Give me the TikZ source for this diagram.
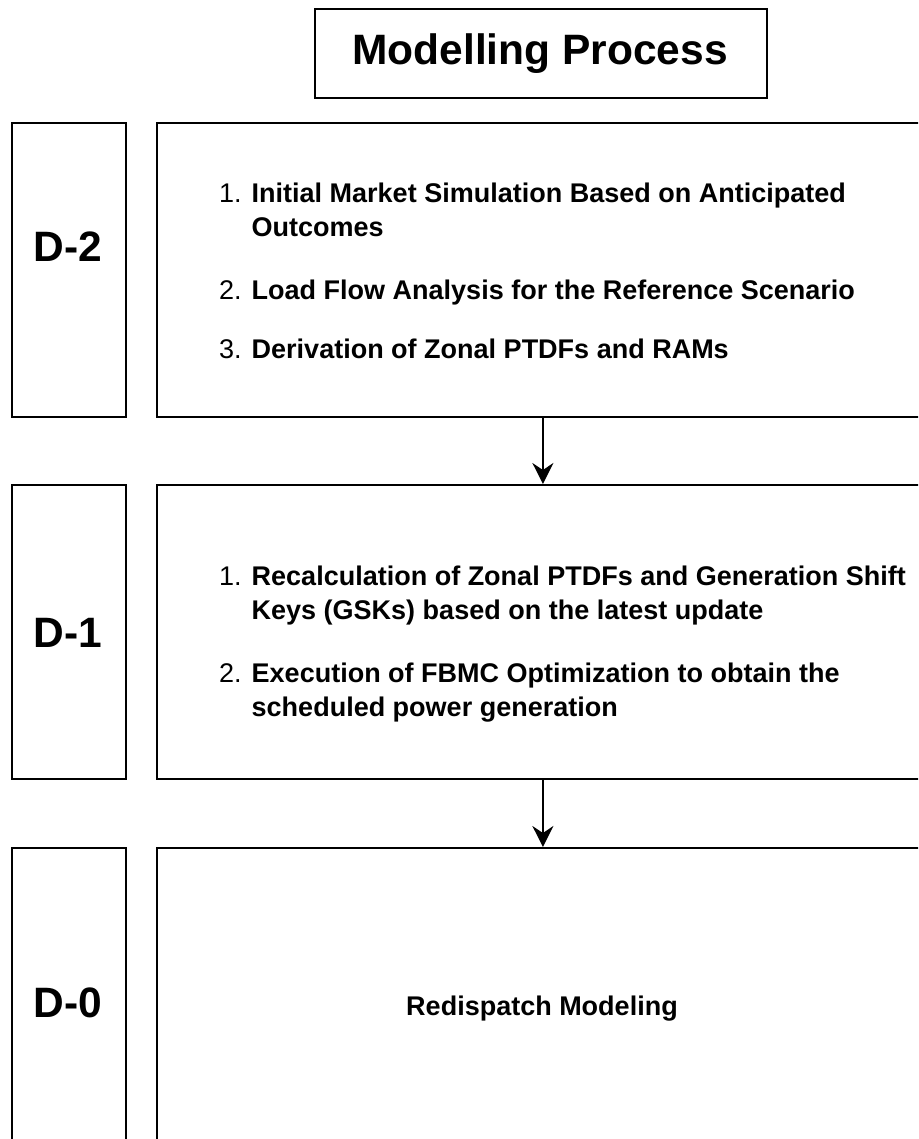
\documentclass[tikz,border=0pt]{standalone}
\usepackage{fontspec}
\setmainfont{Liberation Sans}
\usetikzlibrary{arrows.meta}

\tikzset{
  box/.style={draw=black, line width=1.8pt, rectangle, inner sep=0pt, anchor=north west},
  biglabel/.style={font=\fontsize{42.5}{50}\selectfont\bfseries, inner sep=0pt},
  item/.style={font=\fontsize{27}{34}\selectfont, inner sep=0pt, anchor=base west},
  flow/.style={draw=black, line width=1.8pt, -{Stealth[length=21pt, width=21pt, inset=7pt]}}
}
\newcommand{\stepitem}[3]{%
  \begin{tabular}[t]{@{}l@{ }l@{}}#1 & \textbf{#2}\\ & \textbf{#3}\end{tabular}}
\newcommand{\oneitem}[2]{%
  \begin{tabular}[t]{@{}l@{ }l@{}}#1 & \textbf{#2}\end{tabular}}

\begin{document}
\begin{tikzpicture}[x=1pt, y=-1pt]
  \useasboundingbox (0,0) rectangle (918,1139);
  \clip (0,0) rectangle (918,1139);

  % title
  \node[box, minimum width=452pt, minimum height=89pt] (title) at (314,8) {};
  \node[biglabel, anchor=base] (titletext) at (540,65) {Modelling Process};

  % day labels (left column)
  \node[box, minimum width=114pt, minimum height=294pt] (d2box) at (11,122) {};
  \node[box, minimum width=114pt, minimum height=294pt] (d1box) at (11,484) {};
  \node[box, minimum width=114pt, minimum height=330pt] (d0box) at (11,847) {};
  \node[biglabel] (d2) at (68,247) {D-2};
  \node[biglabel] (d1) at (68,633) {D-1};
  \node[biglabel] (d0) at (68,1003) {D-0};

  % process steps (right column)
  \node[box, minimum width=772pt, minimum height=294pt] (p2) at (156,122) {};
  \node[box, minimum width=772pt, minimum height=294pt] (p1) at (156,484) {};
  \node[box, minimum width=772pt, minimum height=330pt] (p0) at (156,847) {};

  \node[item] (p2a) at (219,203) {\stepitem{1.}{Initial Market Simulation Based on Anticipated}{Outcomes}};
  \node[item] (p2b) at (219,299) {\oneitem{2.}{Load Flow Analysis for the Reference Scenario}};
  \node[item] (p2c) at (219,358) {\oneitem{3.}{Derivation of Zonal PTDFs and RAMs}};

  \node[item] (p1a) at (219,585) {\stepitem{1.}{Recalculation of Zonal PTDFs and Generation Shift}{Keys (GSKs) based on the latest update}};
  \node[item] (p1b) at (219,682) {\stepitem{2.}{Execution of FBMC Optimization to obtain the}{scheduled power generation}};

  \node[font=\fontsize{27}{34}\selectfont\bfseries, inner sep=0pt, anchor=base] (p0a) at (542,1015) {Redispatch Modeling};

  % flow between days
  \draw[flow] (p2.south) -- (p1.north);
  \draw[flow] (p1.south) -- (p0.north);
\end{tikzpicture}
\end{document}
